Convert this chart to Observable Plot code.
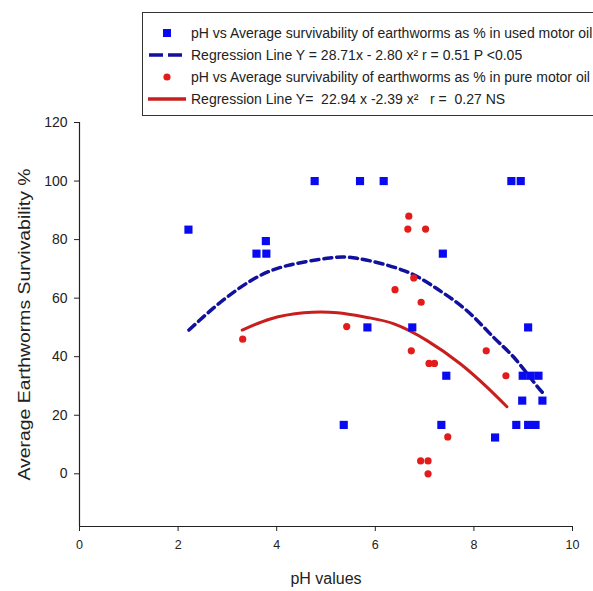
<!DOCTYPE html>
<html>
<head>
<meta charset="utf-8">
<script src="https://cdn.jsdelivr.net/npm/d3@7"></script>
<script src="https://cdn.jsdelivr.net/npm/@observablehq/plot@0.6"></script>
<style>
  html, body { margin: 0; padding: 0; background: #fff; overflow: hidden; }
  #wrap { position: relative; width: 593px; height: 591px; }
  #legend {
    position: absolute; left: 142px; top: 12px; width: 470px; height: 104px;
    border: 1.5px solid #333; box-sizing: border-box; background: #fff;
    font-family: "Liberation Sans", Arial, sans-serif; font-size: 14px; color: #222;
    padding-top: 9px;
  }
  .row { display: flex; align-items: center; height: 22px; }
  .row svg { width: 46px; height: 20px; flex: none; }
  .row span { margin-left: 2px; white-space: pre; }
</style>
</head>
<body>
<div id="wrap"></div>
<script>
// ---- data ----
const xTicks = [0, 2, 4, 6, 8, 10];
const yTicks = [0, 20, 40, 60, 80, 100, 120];

// pH vs survivability (%) in used motor oil (blue squares)
const usedPH   = [2.21, 3.59, 3.79, 3.78, 4.77, 5.69, 6.17, 5.84, 5.36, 6.75, 7.37, 7.44, 7.34, 8.43, 8.76, 8.95, 9.10, 8.99, 9.15, 9.31, 8.98, 9.39, 8.86, 9.10, 9.25];
const usedSurv = [83.4, 75.2, 75.2, 79.5, 100, 100, 100, 50, 16.7, 50, 75.2, 33.5, 16.7, 12.4, 100, 100, 50, 33.5, 33.5, 33.5, 25, 25, 16.7, 16.7, 16.7];

// pH vs survivability (%) in pure motor oil (red circles)
const purePH   = [3.31, 5.42, 6.40, 6.68, 6.66, 7.02, 6.78, 6.93, 6.73, 7.09, 7.20, 8.25, 8.65, 7.47, 6.92, 7.07, 7.07];
const pureSurv = [46, 50.3, 62.9, 88, 83.6, 83.6, 66.9, 58.6, 42, 37.7, 37.7, 42, 33.5, 12.6, 4.4, 4.4, 0];

// regression curves
const usedFitPH = [2.22, 2.86, 3.54, 4.21, 5.02, 5.63, 6.58, 7.26, 7.86, 8.40, 8.81, 9.22, 9.39];
const usedFitY  = [49.1, 58.6, 66.6, 71.1, 73.6, 73.6, 69.4, 63.1, 55.7, 46.6, 39.8, 31.2, 27.8];
const pureFitPH = [3.30, 3.87, 4.55, 5.23, 5.84, 6.38, 7.05, 7.73, 8.27, 8.67];
const pureFitY  = [49.1, 52.9, 55.0, 55.0, 53.4, 51.2, 45.5, 37.5, 29.5, 22.9];

const xLabel = "pH values";
const yLabel = "Average Earthworms Survivability %";
const legendLabels = [
  "pH vs Average survivability of earthworms as % in used motor oil",
  "Regression Line Y = 28.71x - 2.80 x\u00B2 r = 0.51 P <0.05",
  "pH vs Average survivability of earthworms as % in pure motor oil",
  "Regression Line Y=  22.94 x -2.39 x\u00B2   r =  0.27 NS"
];

const blueDot = "#0a0af0", blueLine = "#11119e", redDot = "#e31b1b", redLine = "#c81e1e";

const used = usedPH.map((x, i) => ({x, y: usedSurv[i]}));
const pure = purePH.map((x, i) => ({x, y: pureSurv[i]}));
const usedFit = usedFitPH.map((x, i) => ({x, y: usedFitY[i]}));
const pureFit = pureFitPH.map((x, i) => ({x, y: pureFitY[i]}));

const chart = Plot.plot({
  width: 593, height: 591,
  marginLeft: 79, marginRight: 21, marginTop: 122, marginBottom: 65,
  style: {fontFamily: "Liberation Sans, Arial, sans-serif", fontSize: "13px", color: "#222", background: "transparent"},
  x: {domain: [0, 10]},
  y: {domain: [-18, 120]},
  marks: [
    Plot.ruleX([0], {stroke: "#222", strokeWidth: 1.2}),
    Plot.ruleY([-18], {stroke: "#222", strokeWidth: 1.2}),
    Plot.axisX({ticks: xTicks, tickSize: 5, tickPadding: 9, fontSize: 12.5, label: xLabel, labelAnchor: "center", labelOffset: 57}),
    Plot.axisY({ticks: yTicks, tickSize: 5, tickPadding: 7, fontSize: 14, label: yLabel, labelAnchor: "center", labelOffset: 61}),
    Plot.line(usedFit, {x: "x", y: "y", stroke: blueLine, strokeWidth: 3.5, strokeDasharray: "8,5", curve: "natural"}),
    Plot.line(pureFit, {x: "x", y: "y", stroke: redLine, strokeWidth: 3, curve: "natural"}),
    Plot.dot(used, {x: "x", y: "y", symbol: "square", r: 4.6, fill: blueDot, stroke: "none"}),
    Plot.dot(pure, {x: "x", y: "y", r: 3.6, fill: redDot, stroke: "none"})
  ]
});

const svg = d3.select(chart);
svg.selectAll('[aria-label="x-axis label"] text').attr("font-size", 16).text(xLabel);
svg.selectAll('[aria-label="y-axis label"] text').attr("font-size", 16).text(yLabel)
  .attr("textLength", 312).attr("lengthAdjust", "spacingAndGlyphs");

const wrap = document.getElementById("wrap");
wrap.appendChild(chart);

// legend (HTML)
const legend = document.createElement("div");
legend.id = "legend";
const swatches = [
  `<svg><rect x="20" y="6" width="8" height="8" fill="${blueDot}"/></svg>`,
  `<svg><line x1="6" x2="42" y1="10" y2="10" stroke="${blueLine}" stroke-width="3.5" stroke-dasharray="14,5"/></svg>`,
  `<svg><circle cx="24" cy="10" r="3.6" fill="${redDot}"/></svg>`,
  `<svg><line x1="5" x2="43" y1="10" y2="10" stroke="${redLine}" stroke-width="3.5"/></svg>`
];
legendLabels.forEach((t, i) => {
  const row = document.createElement("div");
  row.className = "row";
  row.innerHTML = swatches[i];
  const span = document.createElement("span");
  span.textContent = t;
  row.appendChild(span);
  legend.appendChild(row);
});
wrap.appendChild(legend);
</script>
</body>
</html>
